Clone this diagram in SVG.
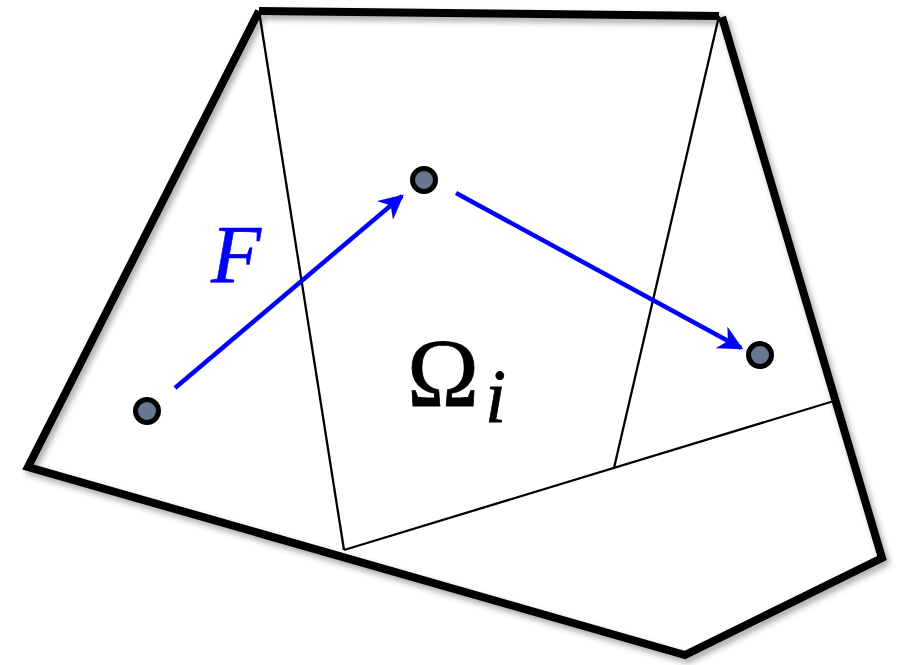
<svg xmlns="http://www.w3.org/2000/svg" width="902" height="665" viewBox="0 0 902 665">
<defs>
<filter id="sh" x="-10%" y="-10%" width="120%" height="120%">
<feGaussianBlur in="SourceAlpha" stdDeviation="3"/>
<feOffset dx="3" dy="4" result="b"/>
<feComponentTransfer><feFuncA type="linear" slope="0.35"/></feComponentTransfer>
<feMerge><feMergeNode/><feMergeNode in="SourceGraphic"/></feMerge>
</filter>
<marker id="ah" viewBox="0 0 10 10" refX="9" refY="5" markerWidth="5.5" markerHeight="5.5" orient="auto" markerUnits="strokeWidth">
<path d="M0,0 L10,5 L0,10 L3,5 z" fill="#0000ff"/>
</marker>
<style>
.outer{fill:none;stroke:#000;stroke-width:8;stroke-linejoin:miter}
.inner{fill:none;stroke:#000;stroke-width:2.3}
.node{fill:#66788f;stroke:#000;stroke-width:5}
.arr{fill:none;stroke:#0000ff;stroke-width:4.5;marker-end:url(#ah)}
.lbl{font-family:"Liberation Serif","Times New Roman",serif}
</style>
</defs>
<rect width="902" height="665" fill="#fff"/>
<g id="mesh">
<g filter="url(#sh)">
<polyline class="outer" points="259,11 719,16"/>
<polyline class="outer" points="722,17 882,558 685,655 28,467 259,11"/>
</g>
<line class="inner" x1="259" y1="11" x2="344" y2="550"/>
<line class="inner" x1="719" y1="16" x2="614" y2="468"/>
<line class="inner" x1="344" y1="550" x2="834" y2="401"/>
</g>
<g id="connectors">
<line class="arr" x1="175" y1="388" x2="402" y2="196"/>
<line class="arr" x1="456" y1="193" x2="741" y2="348"/>
</g>
<g id="n1"><circle class="node" cx="147" cy="411" r="11.5"/></g>
<g id="n2"><circle class="node" cx="424" cy="180" r="11.5"/></g>
<g id="n3"><circle class="node" cx="760" cy="355" r="11.5"/></g>
<g id="labelF"><text class="lbl" x="211" y="282" font-size="82" font-style="italic" fill="#0000ff" stroke="#0000ff" stroke-width="0.6">F</text></g>
<g id="labelOmega"><text class="lbl" x="407" y="406" font-size="97" fill="#000" stroke="#000" stroke-width="0.8">Ω<tspan font-style="italic" font-size="76" dx="6" dy="16">i</tspan></text></g>
</svg>
